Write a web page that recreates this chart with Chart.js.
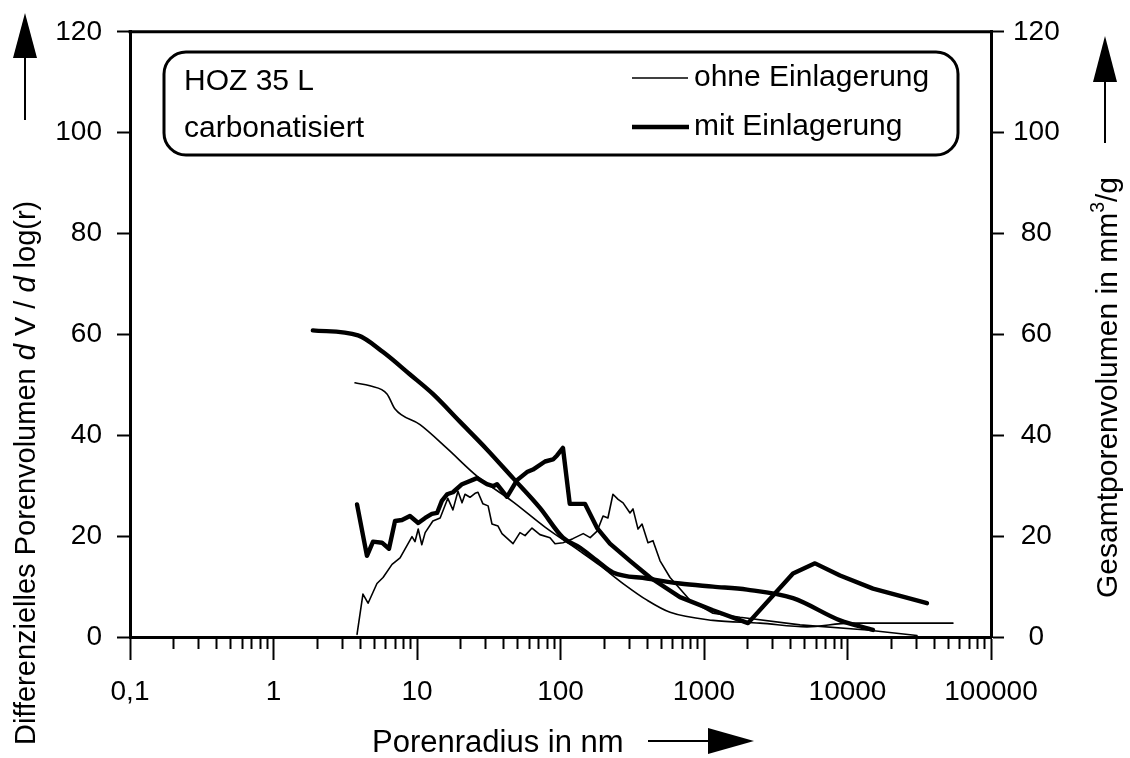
<!DOCTYPE html>
<html>
<head>
<meta charset="utf-8">
<script src="https://cdn.jsdelivr.net/npm/chart.js@4.4.1/dist/chart.umd.min.js"></script>
<style>
  html, body { margin: 0; padding: 0; background: #fff; }
  #wrap { width: 1130px; height: 758px; }
</style>
</head>
<body>
<div id="wrap"><canvas id="poren" width="1130" height="758"></canvas></div>
<script>
// Porenradius in nm / Werte in mm³/g
const seriesNames = ["ohne Einlagerung", "mit Einlagerung"]

// ohne Einlagerung, differentiell (linke Achse)
const ohneDiffR = [3.82, 4.2, 4.56, 5.26, 5.8, 6.7, 7.62, 9.23, 9.68, 10.2, 10.8, 11.4, 12.9, 14.5, 16.4, 17.8, 19.3, 20.6, 21.6, 23.4, 25.4, 26.6, 28.8, 31.3, 33.3, 36.7, 39.1, 46.7, 52.2, 56.6, 63.3, 71.9, 84.5, 91.6, 104, 122, 144, 161, 180, 198, 214, 232, 252, 273, 305, 320, 347, 370, 407, 441, 494, 580, 799, 1155, 1782, 4670, 13670, 30500]
const ohneDiffV = [0.5, 8.5, 6.7, 10.6, 11.8, 14.4, 15.7, 19.9, 18.9, 21.4, 18.3, 20.7, 23, 23.6, 27.5, 25.2, 28.9, 26.6, 28.3, 27.7, 28.5, 28.7, 26.4, 26, 22.4, 22, 20.5, 18.5, 20.7, 20.1, 21.6, 20.3, 19.7, 18.5, 18.7, 19.5, 20.5, 19.7, 21, 24, 23.6, 28.3, 27.3, 26.6, 24.6, 25.4, 21.4, 22.4, 18.7, 19.1, 15.1, 11.8, 7.3, 4.7, 3.9, 2.4, 1.4, 0.3]

// ohne Einlagerung, Gesamtporenvolumen (rechte Achse)
const ohneSumR = [3.7, 4.7, 6.18, 7.03, 10.5, 16.2, 26.2, 46.7, 78, 137, 188, 273, 401, 580, 1155, 2455, 5220, 10400, 54300]
const ohneSumV = [50.4, 49.8, 48.2, 45.2, 42.1, 37.4, 31.9, 26.8, 21.8, 17, 14.2, 10.6, 7.3, 4.9, 3.3, 2.75, 2.0, 2.75, 2.75]

// mit Einlagerung, differentiell (linke Achse)
const mitDiffR = [3.82, 4.48, 4.94, 5.7, 6.38, 7.03, 7.86, 8.93, 10.2, 11.4, 12.7, 13.8, 14.9, 16.2, 17.8, 20.6, 26.2, 30.7, 33.9, 36.1, 42.4, 49.8, 58.4, 64.3, 78, 88.7, 94.6, 104, 116, 148, 180, 221, 305, 421, 680, 1155, 2027, 4170, 5940, 8870, 15060, 35800]
const mitDiffV = [26.3, 16.1, 18.9, 18.7, 17.5, 23, 23.2, 24, 22.6, 23.6, 24.4, 24.6, 27, 28.3, 28.7, 30.3, 31.5, 30.3, 29.9, 30.3, 27.8, 31.1, 32.7, 33.2, 34.8, 35.2, 36, 37.5, 26.4, 26.4, 21.6, 18.5, 15.1, 11.8, 7.9, 5.3, 2.75, 12.6, 14.6, 12.2, 9.6, 6.7]

// mit Einlagerung, Gesamtporenvolumen (rechte Achse)
const mitSumR = [1.88, 3.88, 5.8, 8.9, 12.9, 19.9, 30.7, 46.7, 71.9, 104, 137, 180, 232, 401, 680, 1155, 1995, 4170, 8870, 15060]
const mitSumV = [60.8, 59.8, 56.5, 52.1, 48.2, 42.7, 37.2, 31.5, 25.6, 19.7, 17.7, 15.1, 12.8, 11.6, 10.6, 10.0, 9.4, 7.7, 3.3, 1.4]

const xTicks = [0.1, 1, 10, 100, 1000, 10000, 100000]
const xTickLabels = ["0,1", "1", "10", "100", "1000", "10000", "100000"]
const yTicks = [0, 20, 40, 60, 80, 100, 120]

const FONT = "'Liberation Sans', Arial, sans-serif"
const THIN = 1.6
const THICK = 4.4

const pts = (rs, vs) => rs.map((r, i) => ({ x: r, y: vs[i] }))

function line(data, width, axis, smooth) {
  return {
    data: data,
    yAxisID: axis,
    borderColor: "#000",
    borderWidth: width,
    pointRadius: 0,
    fill: false,
    borderJoinStyle: "round",
    borderCapStyle: "round",
    cubicInterpolationMode: smooth ? "monotone" : "default",
    tension: 0,
  }
}

function arrow(ctx, x1, y1, x2, y2, headLen, headW) {
  const a = Math.atan2(y2 - y1, x2 - x1)
  const bx = x2 - Math.cos(a) * headLen
  const by = y2 - Math.sin(a) * headLen
  ctx.beginPath()
  ctx.moveTo(x1, y1)
  ctx.lineTo(bx, by)
  ctx.lineWidth = 2
  ctx.stroke()
  const nx = (-Math.sin(a) * headW) / 2
  const ny = (Math.cos(a) * headW) / 2
  ctx.beginPath()
  ctx.moveTo(x2, y2)
  ctx.lineTo(bx + nx, by + ny)
  ctx.lineTo(bx - nx, by - ny)
  ctx.closePath()
  ctx.fill()
}

// draws a run of text pieces, some italic or raised, starting at local x = 0
function runText(ctx, parts, size) {
  let x = 0
  for (const p of parts) {
    const fs = p.sup ? size * 0.65 : size
    ctx.font = (p.italic ? "italic " : "") + fs + "px " + FONT
    ctx.fillText(p.t, x, p.sup ? -size * 0.42 : 0)
    x += ctx.measureText(p.t).width
  }
  return x
}

const decorations = {
  id: "decorations",
  afterDraw(chart) {
    const ctx = chart.ctx
    const area = chart.chartArea
    const xs = chart.scales.x
    ctx.save()
    ctx.strokeStyle = "#000"
    ctx.fillStyle = "#000"

    // top frame line
    ctx.lineWidth = 3
    ctx.beginPath()
    ctx.moveTo(area.left - 1.5, area.top)
    ctx.lineTo(area.right + 1.5, area.top)
    ctx.stroke()

    // minor ticks of the log axis
    ctx.lineWidth = 2
    for (let e = -1; e < 5; e++) {
      for (let k = 2; k <= 9; k++) {
        const px = Math.round(xs.getPixelForValue(k * Math.pow(10, e))) + 0.5
        ctx.beginPath()
        ctx.moveTo(px, area.bottom)
        ctx.lineTo(px, area.bottom + 12)
        ctx.stroke()
      }
    }

    // legend box
    ctx.lineWidth = 3
    ctx.beginPath()
    ctx.roundRect(164, 52, 794, 103, 22)
    ctx.stroke()
    ctx.font = "30px " + FONT
    ctx.textBaseline = "middle"
    ctx.textAlign = "left"
    ctx.fillText("HOZ 35 L", 184, 82)
    ctx.fillText("carbonatisiert", 184, 129)
    ctx.fillText(seriesNames[0], 694, 78)
    ctx.fillText(seriesNames[1], 694, 127)
    ctx.lineWidth = THIN
    ctx.beginPath()
    ctx.moveTo(632, 78)
    ctx.lineTo(688, 78)
    ctx.stroke()
    ctx.lineWidth = THICK
    ctx.beginPath()
    ctx.moveTo(632, 127)
    ctx.lineTo(689, 127)
    ctx.stroke()

    // axis titles
    ctx.textBaseline = "alphabetic"
    ctx.save()
    ctx.translate(35, 745)
    ctx.rotate(-Math.PI / 2)
    runText(ctx, [
      { t: "Differenzielles Porenvolumen " },
      { t: "d", italic: true },
      { t: " V / " },
      { t: "d", italic: true },
      { t: " log(r)" },
    ], 29)
    ctx.restore()

    ctx.save()
    ctx.translate(1117, 598)
    ctx.rotate(-Math.PI / 2)
    runText(ctx, [
      { t: "Gesamtporenvolumen in mm" },
      { t: "3", sup: true },
      { t: "/g" },
    ], 30)
    ctx.restore()

    ctx.font = "31px " + FONT
    ctx.textBaseline = "middle"
    ctx.textAlign = "left"
    ctx.fillText("Porenradius in nm", 372, 743)

    // arrows next to the titles
    arrow(ctx, 25, 120, 25, 13, 45, 24)
    arrow(ctx, 1105, 143, 1105, 36, 46, 24)
    arrow(ctx, 648, 741, 754, 741, 46, 26)
    ctx.restore()
  },
}

const tickFont = { family: FONT, size: 28 }

new Chart(document.getElementById("poren"), {
  type: "line",
  data: {
    datasets: [
      line(pts(ohneDiffR, ohneDiffV), THIN, "y", false),
      line(pts(ohneSumR, ohneSumV), THIN, "y1", true),
      line(pts(mitDiffR, mitDiffV), THICK, "y", false),
      line(pts(mitSumR, mitSumV), THICK, "y1", true),
    ],
  },
  options: {
    responsive: false,
    animation: false,
    devicePixelRatio: 1,
    layout: { padding: { top: 27, left: 0, right: 0, bottom: 0 } },
    plugins: { legend: { display: false }, tooltip: { enabled: false } },
    scales: {
      x: {
        type: "logarithmic",
        position: "bottom",
        min: 0.1,
        max: 100000,
        afterBuildTicks: (s) => {
          s.ticks = xTicks.map((v) => ({ value: v, major: true }))
        },
        afterFit: (s) => {
          s.height = 121
        },
        ticks: {
          callback: (v, i) => xTickLabels[i],
          font: tickFont,
          color: "#000",
          padding: 15,
          maxRotation: 0,
          autoSkip: false,
        },
        grid: { drawOnChartArea: false, tickLength: 23, tickWidth: 2, tickColor: "#000" },
        border: { display: true, width: 3, color: "#000" },
      },
      y: {
        position: "left",
        min: 0,
        max: 120,
        afterBuildTicks: (s) => {
          s.ticks = yTicks.map((v) => ({ value: v }))
        },
        afterFit: (s) => {
          s.width = 130
        },
        ticks: { font: tickFont, color: "#000", padding: 15 },
        grid: { drawOnChartArea: false, tickLength: 13, tickWidth: 2, tickColor: "#000" },
        border: { display: true, width: 3, color: "#000" },
      },
      y1: {
        position: "right",
        min: 0,
        max: 120,
        afterBuildTicks: (s) => {
          s.ticks = yTicks.map((v) => ({ value: v }))
        },
        afterFit: (s) => {
          s.width = 139
        },
        ticks: { font: tickFont, color: "#000", padding: 9, crossAlign: "center" },
        grid: { drawOnChartArea: false, tickLength: 13, tickWidth: 2, tickColor: "#000" },
        border: { display: true, width: 3, color: "#000" },
      },
    },
  },
  plugins: [decorations],
})
</script>
</body>
</html>
